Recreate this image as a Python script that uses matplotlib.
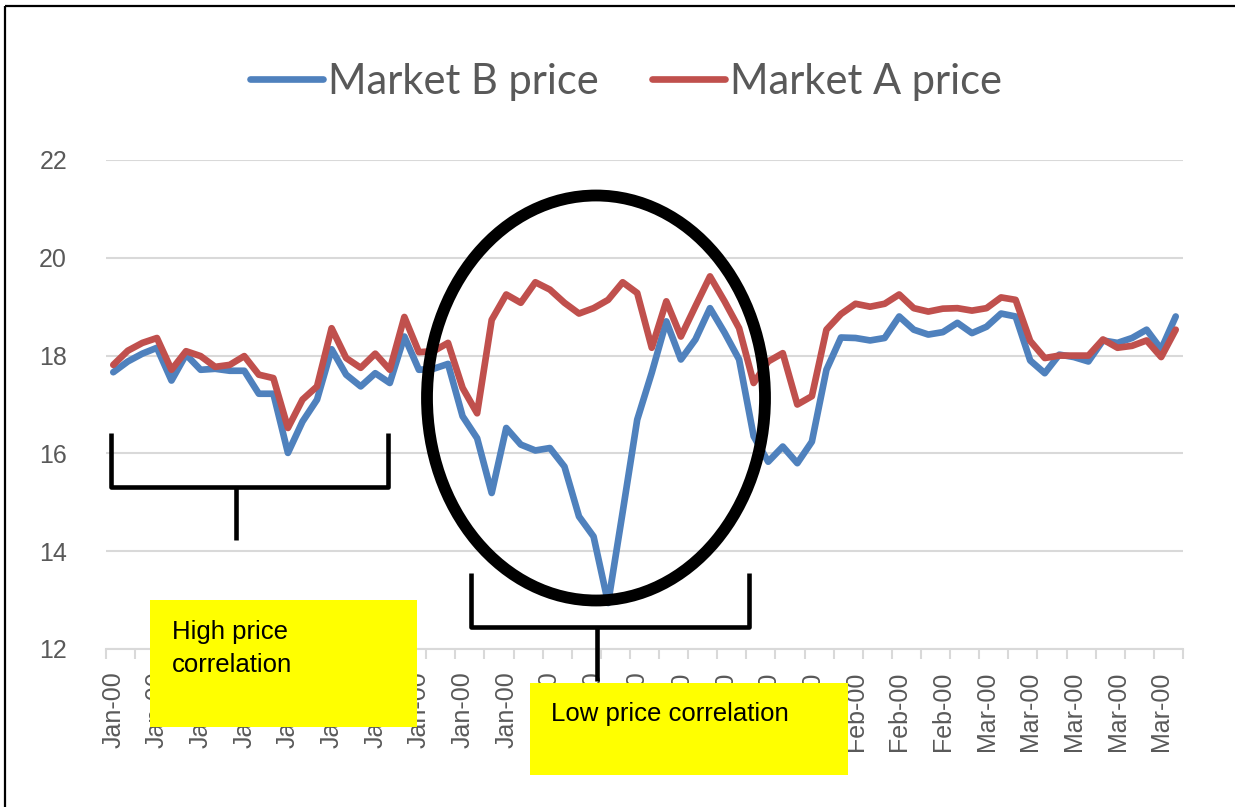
import matplotlib.pyplot as plt
from matplotlib.patches import Ellipse, Rectangle

W, H = 1235, 807

# 74 observations; tick label shown every third one
labels = (["Jan-00"] * 13) + (["Feb-00"] * 7) + (["Mar-00"] * 5)

market_b = [17.66, 17.88, 18.04, 18.16, 17.49, 18.02, 17.71, 17.73, 17.69, 17.69,
            17.22, 17.22, 16.01, 16.65, 17.10, 18.13, 17.61, 17.37, 17.64, 17.44,
            18.39, 17.71, 17.73, 17.83, 16.76, 16.31, 15.19, 16.52, 16.18, 16.06,
            16.11, 15.73, 14.71, 14.30, 12.94, 14.80, 16.69, 17.65, 18.70, 17.92,
            18.33, 18.97, 18.47, 17.92, 16.35, 15.83, 16.14, 15.80, 16.24, 17.71,
            18.37, 18.36, 18.31, 18.36, 18.80, 18.53, 18.43, 18.48, 18.67, 18.46,
            18.59, 18.86, 18.80, 17.90, 17.64, 18.02, 17.97, 17.88, 18.31, 18.26,
            18.36, 18.53, 18.13, 18.80]

market_a = [17.81, 18.10, 18.26, 18.36, 17.71, 18.09, 17.99, 17.77, 17.81, 17.99,
            17.61, 17.54, 16.52, 17.10, 17.37, 18.56, 17.95, 17.75, 18.04, 17.71,
            18.79, 18.07, 18.09, 18.26, 17.34, 16.82, 18.73, 19.25, 19.08, 19.50,
            19.35, 19.08, 18.86, 18.97, 19.14, 19.50, 19.28, 18.16, 19.11, 18.39,
            19.01, 19.62, 19.11, 18.56, 17.44, 17.88, 18.05, 17.00, 17.17, 18.53,
            18.85, 19.06, 19.00, 19.06, 19.25, 18.97, 18.90, 18.96, 18.97, 18.92,
            18.97, 19.19, 19.14, 18.30, 17.95, 18.00, 18.00, 18.00, 18.33, 18.16,
            18.20, 18.31, 17.97, 18.53]

x = list(range(len(market_b)))

fig = plt.figure(figsize=(W / 100, H / 100), dpi=100)
ax = fig.add_axes([106 / W, 1 - 649 / H, (1183 - 106) / W, (649 - 160) / H])

lb, = ax.plot(x, market_b, color="#4F81BD", lw=4.8, solid_joinstyle="round", solid_capstyle="round")
la, = ax.plot(x, market_a, color="#C0504D", lw=4.8, solid_joinstyle="round", solid_capstyle="round")

ax.set_xlim(-0.5, len(x) - 0.5)
ax.set_ylim(12, 22)
ax.set_yticks([12, 14, 16, 18, 20, 22])
ax.grid(axis="y", color="#D9D9D9", lw=1.5)
ax.set_axisbelow(True)
for s in ["top", "right", "left"]:
    ax.spines[s].set_visible(False)
ax.spines["bottom"].set_color("#D9D9D9")
ax.spines["bottom"].set_linewidth(1.5)

ax.set_xticks(list(range(0, len(x), 3)))
ax.set_xticklabels(labels, rotation=90, fontsize=18, color="#595959", family="Liberation Sans")
ax.set_xticks([i - 0.5 for i in range(0, len(x) + 1, 2)], minor=True)
ax.tick_params(axis="x", which="major", length=0, pad=16)
ax.tick_params(axis="x", which="minor", length=7, width=1.5, color="#D9D9D9")
ax.tick_params(axis="y", length=0, pad=28, labelsize=18, labelcolor="#595959")
for t in ax.get_yticklabels():
    t.set_family("Liberation Sans")

fig.legend([lb, la], ["Market B price", "Market A price"], loc="center",
           bbox_to_anchor=(626 / W, 1 - 82 / H), ncol=2, frameon=False,
           prop={"family": "Lato", "size": 30}, labelcolor="#595959",
           handlelength=1.75, handletextpad=0.1, columnspacing=1.3)

# overlay in pixel coordinates for the hand-drawn annotations
ov = fig.add_axes([0, 0, 1, 1], zorder=10)
ov.set_xlim(0, W)
ov.set_ylim(H, 0)
ov.axis("off")
ov.patch.set_alpha(0)

ov.add_patch(Rectangle((5, 6), W + 10, H + 10, fill=False, ec="black", lw=1.6, clip_on=False))

def bracket(x0, x1, xstem, ytop, ybar, ystem):
    kw = dict(color="black", lw=3.3, solid_capstyle="butt")
    ov.plot([x0, x0, x1, x1], [ytop, ybar, ybar, ytop], **kw)
    ov.plot([xstem, xstem], [ybar, ystem], **kw)

bracket(111, 388, 236, 433, 487, 540)
bracket(471, 749, 597, 573, 627, 681)

ov.add_patch(Ellipse((596, 398), 338, 405, fill=False, ec="black", lw=8.5))

ov.add_patch(Rectangle((150, 600), 267, 127, fc="#FFFF00", ec="none"))
ov.text(172, 620, "High price\ncorrelation", fontsize=18.5, family="Liberation Sans",
        va="top", ha="left", linespacing=1.45)
ov.add_patch(Rectangle((530, 683), 318, 92, fc="#FFFF00", ec="none"))
ov.text(551, 714, "Low price correlation", fontsize=18.5, family="Liberation Sans",
        va="center", ha="left")

fig.savefig("out.png", dpi=100)
